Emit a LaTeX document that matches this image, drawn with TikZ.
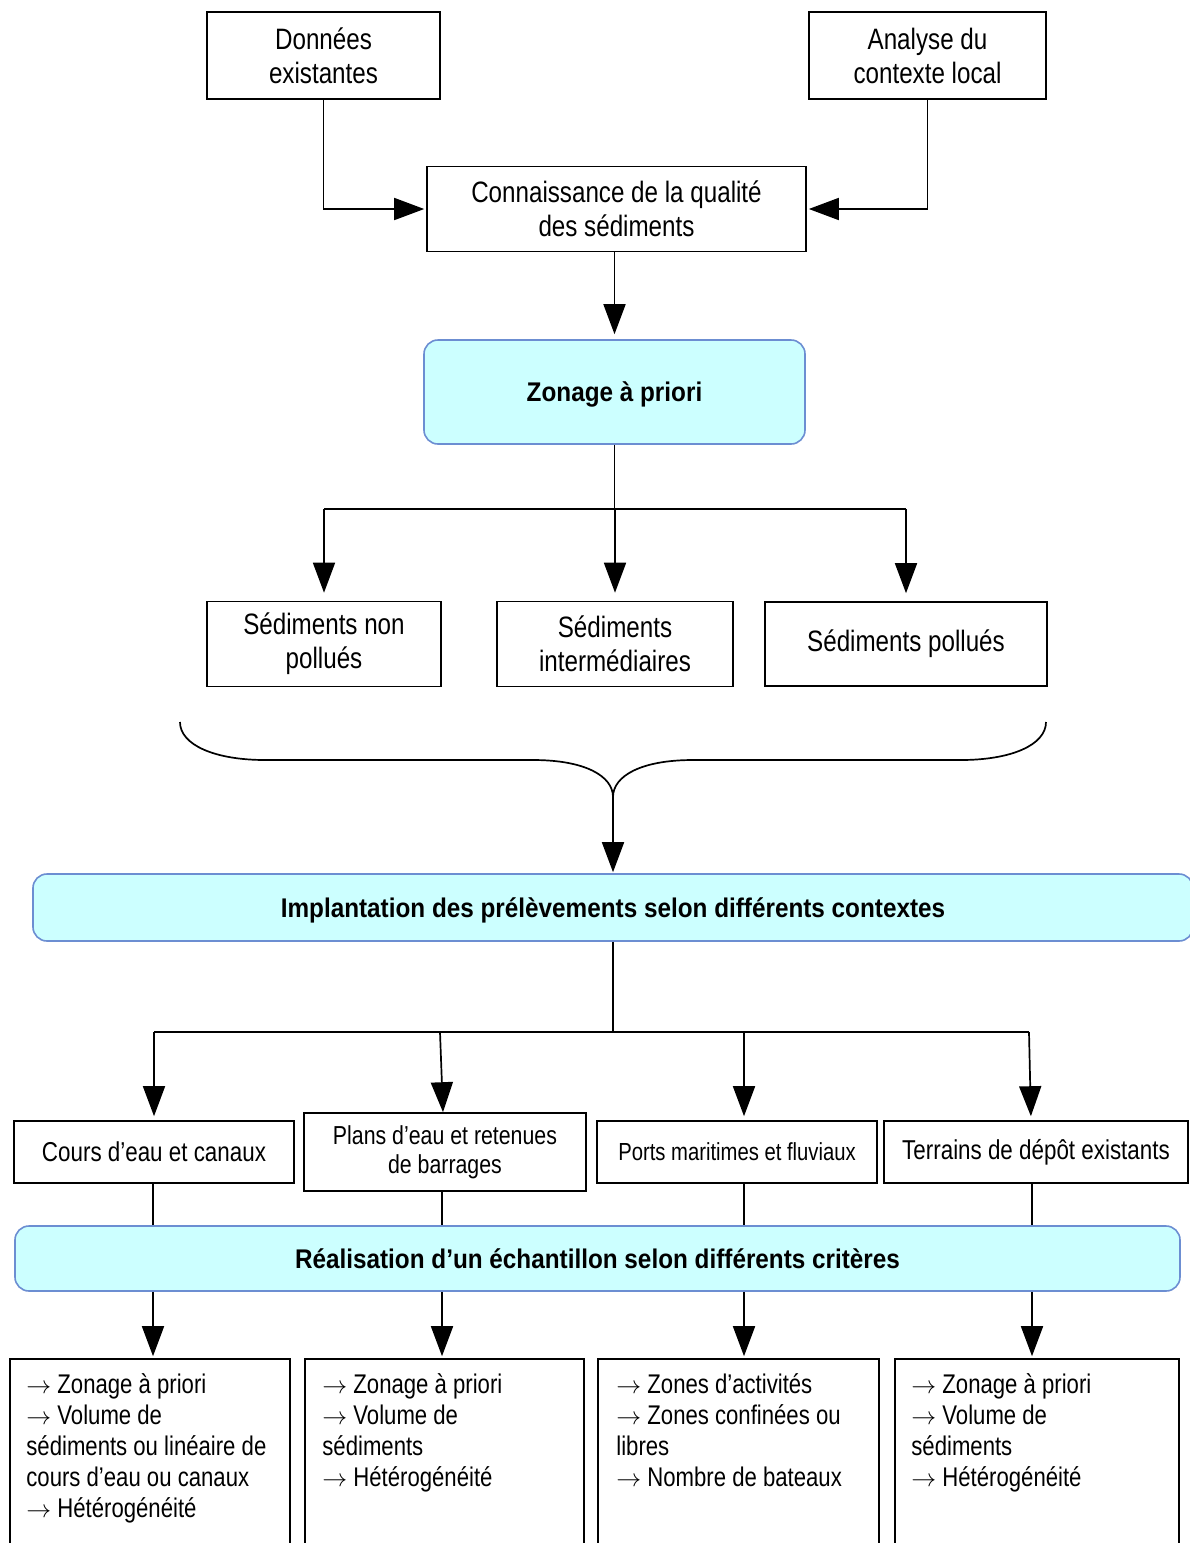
\documentclass[tikz,border=0pt]{standalone}
\usepackage{fontspec}
\setmainfont{Liberation Sans}[FakeStretch=0.82]
\newfontfamily\headfont{Liberation Sans}[FakeStretch=0.9]
\usetikzlibrary{arrows.meta,calc}
\definecolor{panelfill}{HTML}{CCFFFF}
\definecolor{panelline}{RGB}{108,142,210}
% arrow bullet used in the criteria lists
\newcommand\critarrow{$\rightarrow$\ }
\tikzset{
  box/.style={draw=black, line width=1.6pt, inner sep=0pt, align=center,
    font=\fontsize{29.5}{34}\selectfont},
  midbox/.style={box, font=\fontsize{27.3}{31}\selectfont},
  smallbox/.style={box, font=\fontsize{26}{29}\selectfont},
  narrowbox/.style={box, font=\fontsize{24.7}{29}\selectfont},
  panel/.style={draw=panelline, fill=panelfill, line width=1.6pt, rounded corners=14pt,
    inner sep=0pt, text depth=0pt, font=\headfont\bfseries\fontsize{27}{32}\selectfont},
  listbox/.style={draw=black, line width=1.6pt, inner sep=0pt, minimum height=260pt},
  listtext/.style={inner sep=0pt, anchor=north west, align=left,
    font=\fontsize{27}{31}\selectfont},
  link/.style={line width=1.7pt},
  arr/.style={line width=1.7pt, -{Triangle[length=30pt,width=22pt]}},
}
\begin{document}
\begin{tikzpicture}[x=1pt,y=-1pt]
\fill[white] (0,0) rectangle (1190,1543);
\useasboundingbox (0,0) rectangle (1190,1543);
\clip (0,0) rectangle (1190,1543);

% --- top: sources of knowledge
\node[box, minimum width=233pt, minimum height=87pt] (don) at (323.5,55.5) {Données\\existantes};
\node[box, minimum width=237pt, minimum height=87pt] (ana) at (927.5,55.5) {Analyse du\\contexte local};
\node[box, minimum width=379pt, minimum height=85pt] (con) at (616.5,209) {Connaissance de la qualité\\des sédiments};
\node[panel, minimum width=381pt, minimum height=104pt] (zon) at (614.5,392) {Zonage à priori};

\draw[arr, shorten >=2pt] (don.south) |- (con.west);
\draw[arr, shorten >=2pt] (ana.south) |- (con.east);
\draw[arr, shorten >=5pt] (zon.north |- con.south) -- (zon.north);

% --- three classes of sediments
\node[box, minimum width=234pt, minimum height=85pt] (snp) at (324,644) {Sédiments non\\pollués};
\node[box, minimum width=236pt, minimum height=85pt] (sint) at (615,644) {Sédiments\\intermédiaires};
\node[box, minimum width=282pt, minimum height=84pt] (spol) at (906,644) {Sédiments pollués};

\coordinate (j1) at (614.5,509);
\draw[link] (zon.south) -- (j1);
\draw[link] (snp.north |- j1) -- (spol.north |- j1);
\draw[arr, shorten >=8pt] (snp.north |- j1) -- (snp.north);
\draw[arr, shorten >=8pt] (sint.north |- j1) -- (sint.north);
\draw[arr, shorten >=8pt] (spol.north |- j1) -- (spol.north);

% --- brace gathering the three classes
\coordinate (brL) at (180,722);
\coordinate (brR) at (1046,722);
\coordinate (brT) at (613,797);
\draw[link] (brL) .. controls (180,745) and (215,760) .. (265,760) -- (533,760)
  .. controls (585,760) and (613,776) .. (brT);
\draw[link] (brR) .. controls (1046,745) and (1011,760) .. (961,760) -- (693,760)
  .. controls (641,760) and (613,776) .. (brT);

\node[panel, minimum width=1160pt, minimum height=67pt] (imp) at (613,907.5)
  {Implantation des prélèvements selon différents contextes};
\draw[arr, shorten >=1pt] (brT) -- (imp.north);

% --- contexts
\node[midbox, minimum width=280pt, minimum height=62pt] (cours) at (154,1152) {Cours d’eau et canaux};
\node[smallbox, minimum width=282pt, minimum height=78pt] (plans) at (445,1152) {Plans d’eau et retenues\\de barrages};
\node[narrowbox, minimum width=280pt, minimum height=62pt] (ports) at (737,1152) {Ports maritimes et fluviaux};
\node[midbox, minimum width=304pt, minimum height=62pt] (terr) at (1036,1152) {Terrains de dépôt existants};

\coordinate (c1) at (154,1032);
\coordinate (c2) at (440,1032);
\coordinate (c3) at (744,1032);
\coordinate (c4) at (1029,1032);
\draw[link] (imp.south) -- (imp.south |- c1);
\draw[link] (c1) -- (c4);
\draw[arr, shorten >=4pt] (c1) -- (c1 |- cours.north);
\draw[arr] (c2) -- ($(c2 |- plans.north)+(3,0)$);
\draw[arr, shorten >=4pt] (c3) -- (c3 |- ports.north);
\draw[arr, shorten >=4pt] (c4) -- ($(c4 |- terr.north)+(2,0)$);

\node[panel, minimum width=1165pt, minimum height=65pt] (rea) at (597.5,1258.5)
  {Réalisation d’un échantillon selon différents critères};

\coordinate (d1) at (153,0);
\coordinate (d2) at (442,0);
\coordinate (d3) at (744,0);
\coordinate (d4) at (1032,0);
\draw[link] (d1 |- cours.south) -- (d1 |- rea.north);
\draw[link] (d2 |- plans.south) -- (d2 |- rea.north);
\draw[link] (d3 |- ports.south) -- (d3 |- rea.north);
\draw[link] (d4 |- terr.south) -- (d4 |- rea.north);

% --- criteria per context
\node[listbox, minimum width=280pt] (b1) at (150,1489) {};
\node[listbox, minimum width=279pt] (b2) at (444.5,1489) {};
\node[listbox, minimum width=281pt] (b3) at (738.5,1489) {};
\node[listbox, minimum width=284pt] (b4) at (1037,1489) {};

\draw[arr, shorten >=2pt] (d1 |- rea.south) -- (d1 |- b1.north);
\draw[arr, shorten >=2pt] (d2 |- rea.south) -- (d2 |- b2.north);
\draw[arr, shorten >=2pt] (d3 |- rea.south) -- (d3 |- b3.north);
\draw[arr, shorten >=2pt] (d4 |- rea.south) -- (d4 |- b4.north);

\node[listtext] (t1) at ($(b1.north west)+(17,15)$)
  {\critarrow Zonage à priori\\\critarrow Volume de\\sédiments ou linéaire de\\cours d’eau ou canaux\\\critarrow Hétérogénéité};
\node[listtext] (t2) at ($(b2.north west)+(18,15)$)
  {\critarrow Zonage à priori\\\critarrow Volume de\\sédiments\\\critarrow Hétérogénéité};
\node[listtext] (t3) at ($(b3.north west)+(19,15)$)
  {\critarrow Zones d’activités\\\critarrow Zones confinées ou\\libres\\\critarrow Nombre de bateaux};
\node[listtext] (t4) at ($(b4.north west)+(17,15)$)
  {\critarrow Zonage à priori\\\critarrow Volume de\\sédiments\\\critarrow Hétérogénéité};
\end{tikzpicture}
\end{document}
